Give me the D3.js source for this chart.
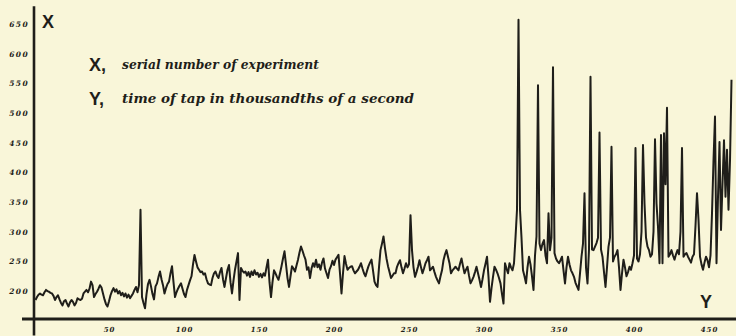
<!DOCTYPE html>
<html>
<head>
<meta charset="utf-8">
<script src="https://cdn.jsdelivr.net/npm/d3@7"></script>
<style>
  html, body { margin: 0; padding: 0; background: #f9f6d9; }
  svg { display: block; }
</style>
</head>
<body>
<script>
// time of each tap (thousandths of a second), experiments 1..465
const tapTimes = [
  185,190,194,196,194,193,198,202,200,199,
  197,196,192,185,190,193,186,180,176,183,
  185,179,174,181,185,182,176,180,188,186,
  185,187,196,199,202,198,204,216,210,190,
  195,199,204,210,206,196,186,178,174,183,
  193,200,205,199,203,196,200,193,197,191,
  196,189,194,188,192,196,202,207,198,210,
  337,190,180,171,195,212,219,208,195,186,
  208,213,224,233,220,210,196,205,212,216,
  230,242,215,190,198,204,209,213,204,195,
  190,202,210,218,225,245,261,250,240,236,
  232,233,228,230,220,213,211,210,222,230,
  233,226,222,232,239,220,207,222,236,244,
  215,196,218,236,250,264,185,239,234,231,
  233,226,232,224,233,227,235,228,231,224,
  229,223,230,226,240,253,215,190,215,235,
  230,224,219,230,242,255,267,245,222,207,
  225,242,238,233,243,253,265,275,268,260,
  253,236,240,222,238,247,241,253,240,245,
  236,248,255,238,230,222,236,242,251,244,
  253,257,261,230,196,230,259,246,236,239,
  241,242,235,230,233,236,241,247,238,230,
  225,234,242,248,253,235,216,210,207,240,
  269,280,292,272,255,242,232,222,226,230,
  230,241,247,252,240,230,238,247,240,245,
  328,269,240,224,232,241,252,240,230,238,
  247,252,258,235,238,241,232,224,218,213,
  225,235,252,262,269,258,247,230,235,238,
  241,238,235,246,255,242,230,236,241,226,
  213,218,224,232,241,230,219,207,220,235,
  246,258,224,182,205,224,241,236,230,222,
  213,195,179,247,238,230,247,240,235,247,
  290,337,657,337,290,235,225,213,240,258,
  245,225,202,260,292,547,280,269,280,286,
  260,247,331,269,290,577,264,255,250,247,
  252,258,235,213,240,258,245,235,230,224,
  214,208,202,230,258,280,365,240,213,270,
  561,270,269,275,281,290,467,270,258,232,
  207,240,275,290,443,250,258,262,269,240,
  202,230,253,
  240,225,232,241,236,247,260,441,255,250,
  262,300,446,348,290,275,269,258,262,300,
  456,348,308,247,463,247,466,380,509,258,
  262,269,260,253,262,269,262,300,441,258,
  262,264,258,253,248,258,262,310,365,320,
  258,245,236,248,258,252,240,260,331,420,
  494,247,359,451,303,380,454,359,438,337,
  420,556
];

const xTicks = [50, 100, 150, 200, 250, 300, 350, 400, 450];
const yTicks = [200, 250, 300, 350, 400, 450, 500, 550, 600, 650];

const legendKeys = ["X", "Y"];
const legendTexts = ["serial number of experiment", "time of tap in thousandths of a second"];
const axisNames = ["X", "Y"];

const width = 736;
const height = 336;
const ink = "#1f1e1a";

const x = d3.scaleLinear().domain([0, 450]).range([34, 709]);
const y = d3.scaleLinear().domain([153, 650]).range([319, 24]);

const svg = d3.create("svg")
  .attr("width", width)
  .attr("height", height)
  .style("background", "#f9f6d9");

// axes lines (thick, extending past the plot like the ink drawing)
svg.append("line")
  .attr("x1", x(0)).attr("x2", x(0))
  .attr("y1", y(680)).attr("y2", y(125))
  .attr("stroke", ink).attr("stroke-width", 2.6);

svg.append("line")
  .attr("x1", x(-8)).attr("x2", x(475))
  .attr("y1", y(153)).attr("y2", y(153))
  .attr("stroke", ink).attr("stroke-width", 3);

// y tick labels
const gy = svg.append("g")
  .attr("transform", `translate(${x(0) - 2},0)`)
  .call(d3.axisLeft(y).tickValues(yTicks).tickSize(0).tickPadding(3));
gy.select(".domain").remove();
gy.selectAll("text")
  .attr("fill", ink)
  .style("font", "italic bold 7.5px 'DejaVu Serif'")
  .style("letter-spacing", "1.4px");

// x tick labels
const gx = svg.append("g")
  .attr("transform", `translate(0,${y(153) + 6})`)
  .call(d3.axisBottom(x).tickValues(xTicks).tickSize(0).tickPadding(2));
gx.select(".domain").remove();
gx.selectAll("text")
  .attr("fill", ink)
  .style("font", "italic bold 7px 'DejaVu Serif'")
  .style("letter-spacing", "1px");

// the curve
const line = d3.line()
  .x((d, i) => x(i + 1))
  .y(d => y(d));

svg.append("path")
  .datum(tapTimes)
  .attr("fill", "none")
  .attr("stroke", ink)
  .attr("stroke-width", 2)
  .attr("stroke-linejoin", "round")
  .attr("d", line);

// axis letters
svg.append("text")
  .attr("x", x(0) + 8).attr("y", 28)
  .attr("fill", ink)
  .style("font", "bold 18px 'Liberation Sans'")
  .text(axisNames[0]);

svg.append("text")
  .attr("x", x(444)).attr("y", 308)
  .attr("fill", ink)
  .style("font", "bold 18px 'Liberation Sans'")
  .text(axisNames[1]);

// legend
const legend = svg.append("g");
const textWidths = [197, 292];
legendKeys.forEach((k, i) => {
  const base = 71 + i * 34;
  legend.append("text")
    .attr("x", 89).attr("y", base)
    .attr("fill", ink)
    .style("font", "bold 18px 'Liberation Sans'")
    .text(k + ",");
  legend.append("text")
    .attr("x", 122).attr("y", base - 2)
    .attr("fill", ink)
    .attr("textLength", textWidths[i])
    .attr("lengthAdjust", "spacingAndGlyphs")
    .style("font", "italic bold 12.5px 'DejaVu Serif'")
    .text(legendTexts[i]);
});

document.body.appendChild(svg.node());
</script>
</body>
</html>
